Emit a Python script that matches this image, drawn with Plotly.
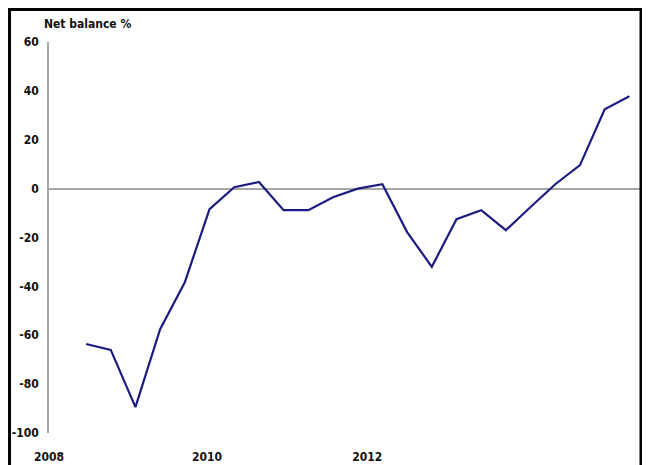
import plotly.graph_objects as go

# Quarterly net balance (%) readings, index 0 = first plotted quarter
quarter_index = list(range(23))
net_balance = [-63.6, -66, -89.4, -57.5, -38.3, -8.4, 0.6, 2.7, -8.8, -8.8,
               -3.5, 0, 1.8, -17.8, -32, -12.5, -8.8, -17, -7.5, 1.8,
               9.6, 32.5, 37.8]

year_tick_pos = [-1.5, 4.9, 11.39]
year_tick_text = ["2008", "2010", "2012"]

y_tick_vals = [-100, -80, -60, -40, -20, 0, 20, 40, 60]
y_tick_text = ["-100", "-80", "-60", "-40", "-20", "0", "20", "40", "60"]

FONT = "DejaVu Sans Condensed, Liberation Sans Narrow, Arial Narrow, sans-serif"

fig = go.Figure()
fig.add_trace(go.Scatter(
    x=quarter_index, y=net_balance, mode="lines",
    line=dict(color="#1c1c80", width=2.2),
    hoverinfo="skip", showlegend=False,
))

# the page body adds an 8px offset, so the figure is 8px smaller each way
fig.update_layout(
    width=642, height=457,
    margin=dict(l=41, r=10, t=34, b=32, autoexpand=False),
    paper_bgcolor="white", plot_bgcolor="white",
    font=dict(family=FONT, size=12, color="#111"),
    xaxis=dict(
        range=[-1.5, 22.43], showgrid=False, zeroline=False, showline=False,
        tickvals=year_tick_pos, ticktext=["<b>%s</b>" % t for t in year_tick_text],
        ticks="", tickfont=dict(family=FONT, size=12, color="#111"),
        ticklabelstandoff=15,
    ),
    yaxis=dict(
        range=[-100, 60], tickvals=y_tick_vals,
        ticktext=["<b>%s</b>" % t for t in y_tick_text], showgrid=False,
        zeroline=True, zerolinecolor="#a6a6a6", zerolinewidth=2,
        showline=True, linecolor="#a6a6a6", linewidth=1.5, ticks="",
        tickfont=dict(family=FONT, size=12, color="#111"),
        ticklabelstandoff=6,
    ),
    shapes=[dict(
        type="rect", xref="paper", yref="paper",
        x0=-0.0668, x1=1.0017, y0=-0.12, y1=1.083,
        line=dict(color="black", width=3), fillcolor="rgba(0,0,0,0)",
        layer="above",
    )],
    annotations=[dict(
        text="<b>Net balance %</b>", xref="paper", yref="paper",
        x=-0.012, y=1.046, xanchor="left", yanchor="middle",
        showarrow=False, font=dict(family=FONT, size=12, color="#111"),
    )],
)

fig.write_html("out.html")
